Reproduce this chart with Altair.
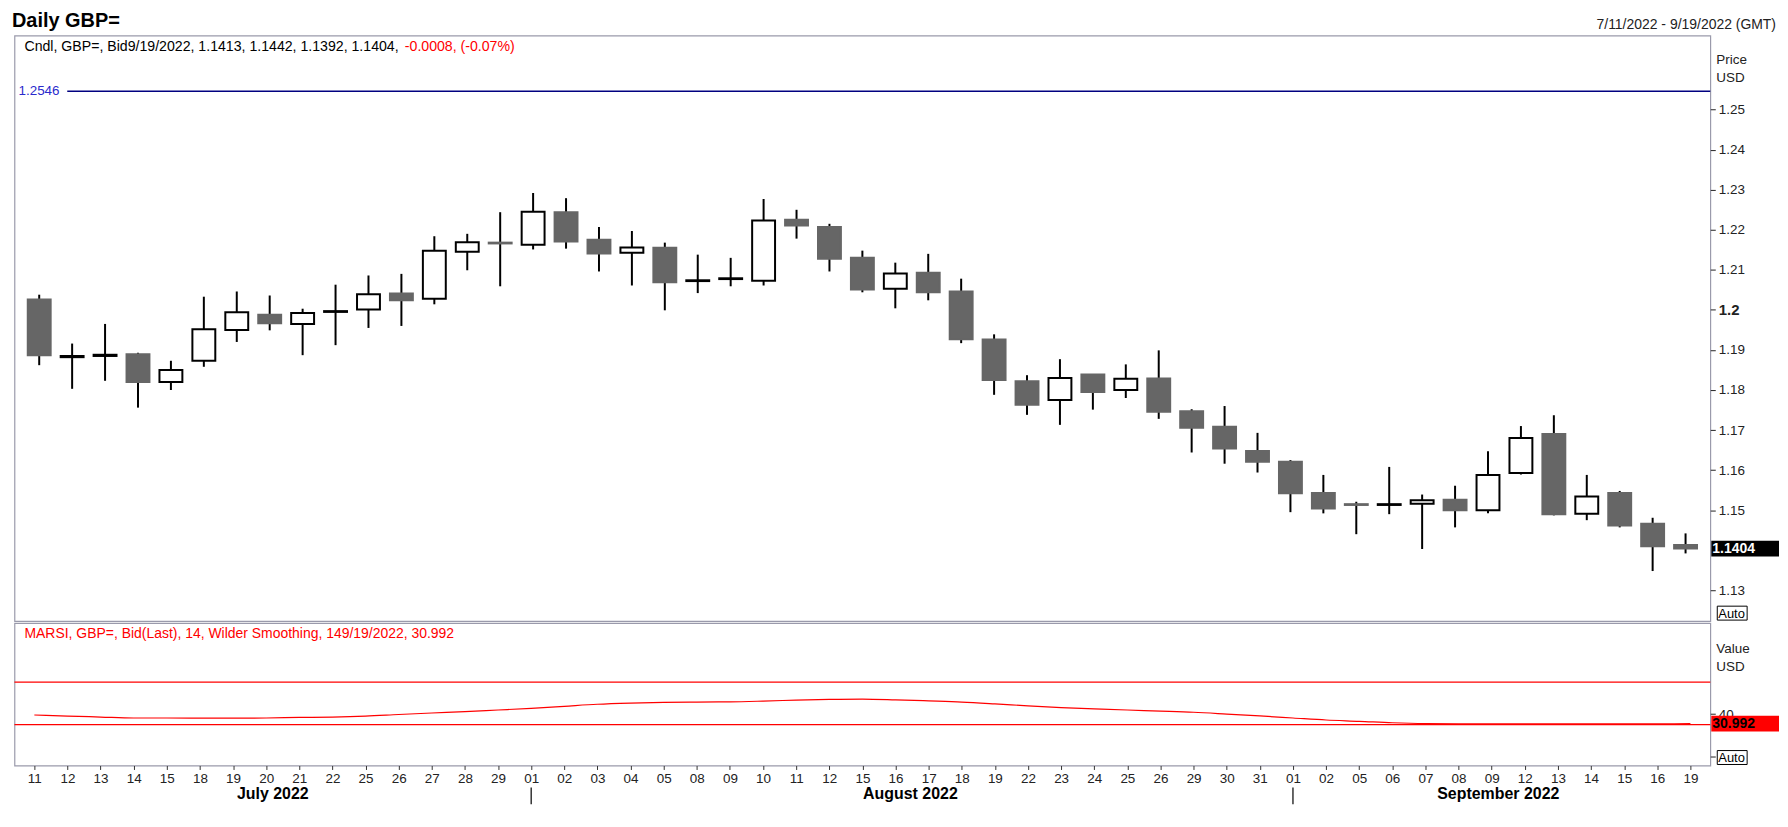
import json

import altair as alt
import numpy as np
import pandas as pd

# trading days shown on the chart
dates = [
    "2022-07-11", "2022-07-12", "2022-07-13", "2022-07-14", "2022-07-15",
    "2022-07-18", "2022-07-19", "2022-07-20", "2022-07-21", "2022-07-22",
    "2022-07-25", "2022-07-26", "2022-07-27", "2022-07-28", "2022-07-29",
    "2022-08-01", "2022-08-02", "2022-08-03", "2022-08-04", "2022-08-05",
    "2022-08-08", "2022-08-09", "2022-08-10", "2022-08-11", "2022-08-12",
    "2022-08-15", "2022-08-16", "2022-08-17", "2022-08-18", "2022-08-19",
    "2022-08-22", "2022-08-23", "2022-08-24", "2022-08-25", "2022-08-26",
    "2022-08-29", "2022-08-30", "2022-08-31",
    "2022-09-01", "2022-09-02", "2022-09-05", "2022-09-06", "2022-09-07",
    "2022-09-08", "2022-09-09", "2022-09-12", "2022-09-13", "2022-09-14",
    "2022-09-15", "2022-09-16", "2022-09-19",
]

opens = [
    1.2026, 1.1882, 1.1885, 1.1889, 1.1820, 1.1873, 1.1950, 1.1988, 1.1965, 1.1995,
    1.2001, 1.2041, 1.2028, 1.2145, 1.2168, 1.2163, 1.2244, 1.2175, 1.2143, 1.2155,
    1.2072, 1.2077, 1.2073, 1.2225, 1.2207, 1.2130, 1.2053, 1.2093, 1.2046, 1.1926,
    1.1822, 1.1775, 1.1839, 1.1800, 1.1829, 1.1747, 1.1708, 1.1648, 1.1621, 1.1543,
    1.1515, 1.1513, 1.1516, 1.1526, 1.1500, 1.1593, 1.1690, 1.1491, 1.1543, 1.1466,
    1.1413,
]
highs = [
    1.2038, 1.1916, 1.1965, 1.1893, 1.1873, 1.2033, 1.2046, 1.2036, 1.2003, 1.2063,
    1.2086, 1.2090, 1.2184, 1.2190, 1.2244, 1.2292, 1.2279, 1.2207, 1.2197, 1.2168,
    1.2138, 1.2130, 1.2277, 1.2250, 1.2215, 1.2148, 1.2118, 1.2140, 1.2078, 1.1939,
    1.1837, 1.1877, 1.1840, 1.1864, 1.1899, 1.1752, 1.1760, 1.1693, 1.1625, 1.1588,
    1.1521, 1.1608, 1.1539, 1.1561, 1.1647, 1.1710, 1.1737, 1.1588, 1.1548, 1.1481,
    1.1442,
]
lows = [
    1.1862, 1.1803, 1.1823, 1.1756, 1.1800, 1.1858, 1.1920, 1.1949, 1.1887, 1.1912,
    1.1955, 1.1960, 1.2014, 1.2099, 1.2059, 1.2151, 1.2153, 1.2096, 1.2061, 1.1999,
    1.2042, 1.2059, 1.2061, 1.2178, 1.2096, 1.2044, 1.2004, 1.2024, 1.1917, 1.1788,
    1.1738, 1.1713, 1.1751, 1.1780, 1.1728, 1.1644, 1.1616, 1.1594, 1.1495, 1.1492,
    1.1440, 1.1490, 1.1403, 1.1457, 1.1492, 1.1589, 1.1487, 1.1475, 1.1457, 1.1348,
    1.1392,
]
closes = [
    1.1887, 1.1885, 1.1888, 1.1820, 1.1850, 1.1952, 1.1994, 1.1967, 1.1992, 1.1997,
    1.2039, 1.2024, 1.2148, 1.2169, 1.2166, 1.2245, 1.2171, 1.2141, 1.2156, 1.2069,
    1.2074, 1.2079, 1.2223, 1.2211, 1.2128, 1.2051, 1.2091, 1.2044, 1.1927, 1.1825,
    1.1763, 1.1830, 1.1795, 1.1828, 1.1746, 1.1706, 1.1654, 1.1621, 1.1542, 1.1504,
    1.1513, 1.1515, 1.1525, 1.1500, 1.1588, 1.1680, 1.1490, 1.1534, 1.1462, 1.1410,
    1.1404,
]
rsi = [
    39.1, 38.1, 37.2, 36.3, 36.3, 36.1, 36.1, 36.3, 36.8, 37.2,
    38.1, 39.6, 41.0, 42.2, 43.8, 45.4, 47.3, 49.2, 50.3, 51.0,
    51.3, 51.5, 52.2, 53.1, 53.8, 54.1, 53.4, 52.4, 51.3, 49.6,
    47.7, 46.1, 44.9, 43.8, 42.8, 41.7, 40.0, 38.2, 36.3, 34.4,
    33.2, 31.8, 31.0, 30.8, 30.7, 30.7, 30.7, 30.7, 30.7, 30.8,
    30.992,
]

# month captions under the axis, centred at these day positions
month_names = ["July 2022", "August 2022", "September 2022"]
month_pos = [7.2, 26.45, 44.2]

ref_level = 1.2546
rsi_levels = [70, 30]
price_ticks = [1.13, 1.15, 1.16, 1.17, 1.18, 1.19, 1.2, 1.21, 1.22, 1.23, 1.24, 1.25]
rsi_ticks = [0, 40]

title_text = "Daily GBP="
range_text = "7/11/2022 - 9/19/2022 (GMT)"
header_black = "Cndl, GBP=, Bid9/19/2022, 1.1413, 1.1442, 1.1392, 1.1404, "
header_red = "-0.0008, (-0.07%)"
rsi_header = "MARSI, GBP=, Bid(Last),  14, Wilder Smoothing, 149/19/2022, 30.992"

FONT = "Liberation Sans"
W = 1703
H_PRICE = 588
H_RSI = 143
N = len(dates)

d = pd.to_datetime(pd.Series(dates))
df = pd.DataFrame(
    {"i": range(N), "open": opens, "high": highs, "low": lows, "close": closes, "rsi": rsi}
)
df["dir"] = np.where(df["close"] >= df["open"], "up", "down")
day_labels = d.dt.strftime("%d").tolist()

month_no = d.dt.month
starts_df = pd.DataFrame({"i": [i for i in range(1, N) if month_no[i] != month_no[i - 1]]})
month_df = pd.DataFrame({"i": month_pos, "m": month_names})

x_scale = alt.Scale(domain=[-0.6, N - 0.4], nice=False, zero=False)
y_price = alt.Scale(domain=[1.1223, 1.2685], nice=False, zero=False)
y_rsi = alt.Scale(domain=[-8.4, 125.6], nice=False, zero=False)

x_price = alt.X("i:Q", scale=x_scale, axis=None)
x_rsi = alt.X(
    "i:Q",
    scale=x_scale,
    axis=alt.Axis(
        values=list(range(N)),
        labelExpr=json.dumps(day_labels) + "[datum.value]",
        tickSize=4,
        tickColor="#333333",
        labelPadding=2,
        labelFontSize=13.5,
        labelColor="#222222",
        labelOverlap=False,
        labelFlush=False,
        domain=False,
        grid=False,
        title=None,
    ),
)

bold_test = "abs(datum.value - 1.2) < 0.0001"
price_axis = alt.Axis(
    orient="right",
    values=price_ticks,
    labelExpr=bold_test + " ? '1.2' : format(datum.value, '.2f')",
    labelFontWeight={"condition": {"test": bold_test, "value": "bold"}, "value": "normal"},
    labelFontSize={"condition": {"test": bold_test, "value": 15}, "value": 13.5},
    tickSize=5,
    tickColor="#222222",
    labelPadding=3,
    labelColor="#222222",
    labelOverlap=False,
    labelFlush=False,
    domain=False,
    grid=False,
    title=None,
)
rsi_axis = alt.Axis(
    orient="right",
    values=rsi_ticks,
    labelExpr="datum.value == 40 ? '40' : ''",
    tickSize=5,
    tickColor="#222222",
    labelPadding=3,
    labelFontSize=13.5,
    labelColor="#222222",
    labelFlush=False,
    domain=False,
    grid=False,
    title=None,
)


def note(text, x, y, **kw):
    return (
        alt.Chart(pd.DataFrame({"t": [text]}))
        .mark_text(align="left", baseline="middle", **kw)
        .encode(text="t:N", x=alt.value(x), y=alt.value(y))
    )


def auto_box(y):
    box = (
        alt.Chart(pd.DataFrame({"t": ["Auto"]}))
        .mark_rect(fill="white", stroke="black", strokeWidth=1)
        .encode(x=alt.value(W + 7), x2=alt.value(W + 37), y=alt.value(y), y2=alt.value(y + 14))
    )
    return box + note("Auto", W + 8, y + 7.5, fontSize=13, color="black")


# price panel
wicks = alt.Chart(df).mark_rule(color="black", strokeWidth=2).encode(
    x=x_price, y=alt.Y("low:Q", scale=y_price, axis=price_axis), y2="high:Q"
)
bodies = alt.Chart(df).mark_bar(size=23, strokeWidth=2).encode(
    x=x_price,
    y=alt.Y("open:Q", scale=y_price, axis=price_axis),
    y2="close:Q",
    fill=alt.Fill("dir:N", scale=alt.Scale(domain=["up", "down"], range=["white", "#666666"]), legend=None),
    stroke=alt.Stroke("dir:N", scale=alt.Scale(domain=["up", "down"], range=["black", "#666666"]), legend=None),
)
ref_df = pd.DataFrame({"v": [ref_level], "t": [f"{ref_level:.4f}"]})
ref_line = alt.Chart(ref_df).mark_rule(color="#000080", strokeWidth=1.3).encode(
    y=alt.Y("v:Q", scale=y_price), x=alt.value(53), x2=alt.value(W)
)
ref_label = alt.Chart(ref_df).mark_text(align="left", baseline="middle", fontSize=13.5, color="#2a2acc").encode(
    y=alt.Y("v:Q", scale=y_price), x=alt.value(4), text="t:N"
)
last_df = pd.DataFrame({"v": [closes[-1]], "t": [f"{closes[-1]:.4f}"]})
last_box = alt.Chart(last_df).mark_tick(orient="horizontal", thickness=16, size=68, color="black", opacity=1).encode(
    y=alt.Y("v:Q", scale=y_price), x=alt.value(W + 35)
)
last_text = alt.Chart(last_df).mark_text(
    align="left", baseline="middle", fontSize=14, fontWeight="bold", color="white"
).encode(y=alt.Y("v:Q", scale=y_price), x=alt.value(W + 2), text="t:N")

title = (
    alt.Chart(pd.DataFrame({"t": [title_text]}))
    .mark_text(align="left", baseline="alphabetic", fontSize=20, fontWeight="bold", color="black")
    .encode(text="t:N", x=alt.value(-2.5), y=alt.value(-9))
)
date_range = (
    alt.Chart(pd.DataFrame({"t": [range_text]}))
    .mark_text(align="right", baseline="alphabetic", fontSize=14, color="#222222")
    .encode(text="t:N", x=alt.value(W + 66), y=alt.value(-7))
)

price = alt.layer(
    wicks,
    bodies,
    ref_line,
    ref_label,
    note(header_black, 10, 11, fontSize=14.2, color="black"),
    note(header_red, 392, 11, fontSize=14.2, color="#ff0000"),
    note("Price\nUSD", W + 6, 25, fontSize=13.5, color="#222222", lineBreak="\n", lineHeight=18),
    auto_box(H_PRICE - 15),
    last_box,
    last_text,
    title,
    date_range,
).properties(width=W, height=H_PRICE)

# RSI panel
lv_df = pd.DataFrame({"v": rsi_levels})
levels = alt.Chart(lv_df).mark_rule(color="#ff0000", strokeWidth=1.2).encode(
    y=alt.Y("v:Q", scale=y_rsi, axis=rsi_axis)
)
rsi_line = alt.Chart(df).mark_line(color="#ff0000", strokeWidth=1.2, interpolate="monotone").encode(
    x=x_rsi, y=alt.Y("rsi:Q", scale=y_rsi, axis=rsi_axis)
)
rsi_last = pd.DataFrame({"v": [rsi[-1]], "t": [f"{rsi[-1]:.3f}"]})
rsi_box = alt.Chart(rsi_last).mark_tick(orient="horizontal", thickness=16, size=68, color="#ff0000", opacity=1).encode(
    y=alt.Y("v:Q", scale=y_rsi), x=alt.value(W + 35)
)
rsi_text = alt.Chart(rsi_last).mark_text(
    align="left", baseline="middle", fontSize=14, fontWeight="bold", color="black"
).encode(y=alt.Y("v:Q", scale=y_rsi), x=alt.value(W + 2), text="t:N")

month_text = alt.Chart(month_df).mark_text(
    baseline="middle", fontSize=16, fontWeight="bold", color="black"
).encode(x=x_rsi, y=alt.value(H_RSI + 29), text="m:N")
month_ticks = alt.Chart(starts_df).mark_rule(color="black", strokeWidth=1.2).encode(
    x=x_rsi, y=alt.value(H_RSI + 22), y2=alt.value(H_RSI + 39)
)

rsi_panel = alt.layer(
    levels,
    rsi_line,
    note(rsi_header, 10, 11, fontSize=14, color="#ff0000"),
    note("Value\nUSD", W + 6, 26, fontSize=13.5, color="#222222", lineBreak="\n", lineHeight=18),
    auto_box(H_RSI - 15),
    rsi_box,
    rsi_text,
    month_text,
    month_ticks,
).properties(width=W, height=H_RSI)

chart = (
    alt.vconcat(price, rsi_panel, spacing=0)
    .resolve_scale(y="independent")
    .properties(padding={"left": 2.5, "top": 0, "right": 0, "bottom": 0})
    .configure(font=FONT, background="white")
    .configure_view(stroke="#9a9aab", strokeWidth=1.2)
)

chart.save("out.html", embed_options={"renderer": "svg", "actions": False})
